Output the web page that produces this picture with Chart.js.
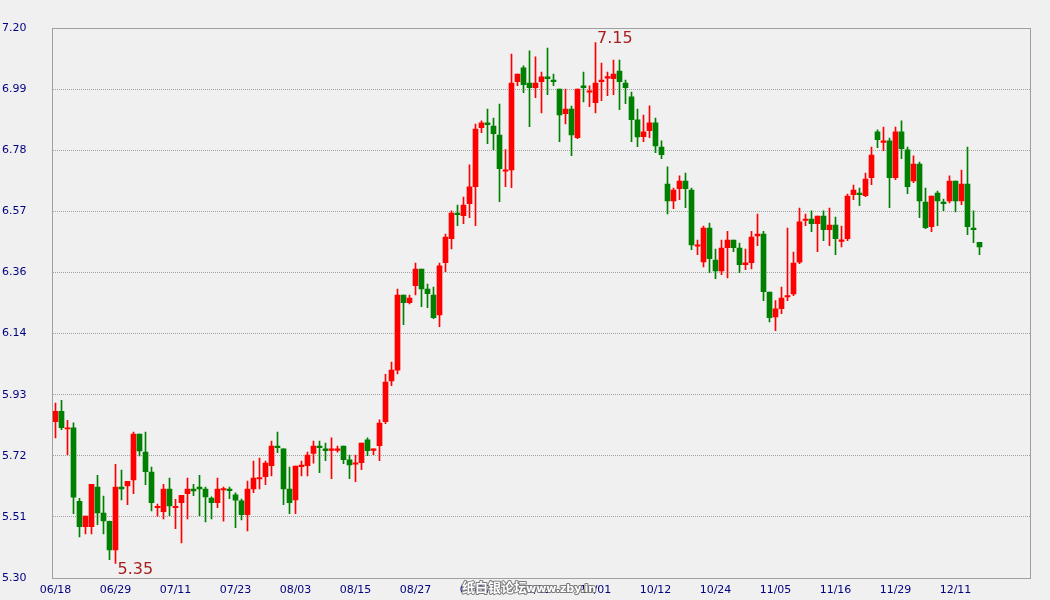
<!DOCTYPE html>
<html><head><meta charset="utf-8">
<script src="https://cdn.jsdelivr.net/npm/chart.js@4.4.0/dist/chart.umd.min.js"></script>
<style>html,body{margin:0;padding:0;background:#f0f0f0;}#wrap{width:1050px;height:600px;}canvas{display:block;}</style>
</head><body><div id="wrap"><canvas id="c" width="1050" height="600"></canvas></div>
<script>
const dates = [
'06/18','06/19','06/20','06/21','06/22','06/23','06/25','06/26','06/27','06/28',
'06/29','06/30','07/02','07/03','07/04','07/05','07/06','07/07','07/09','07/10',
'07/11','07/12','07/13','07/14','07/16','07/17','07/18','07/19','07/20','07/21',
'07/23','07/24','07/25','07/26','07/27','07/28','07/30','07/31','08/01','08/02',
'08/03','08/04','08/06','08/07','08/08','08/09','08/10','08/11','08/13','08/14',
'08/15','08/16','08/17','08/18','08/20','08/21','08/22','08/23','08/24','08/25',
'08/27','08/28','08/29','08/30','08/31','09/01','09/03','09/04','09/05','09/06',
'09/07','09/08','09/10','09/11','09/12','09/13','09/14','09/15','09/17','09/18',
'09/19','09/20','09/21','09/22','09/24','09/25','09/26','09/27','09/28','09/29',
'10/01','10/02','10/03','10/04','10/05','10/06','10/08','10/09','10/10','10/11',
'10/12','10/13','10/15','10/16','10/17','10/18','10/19','10/20','10/22','10/23',
'10/24','10/25','10/26','10/27','10/29','10/30','10/31','11/01','11/02','11/03',
'11/05','11/06','11/07','11/08','11/09','11/10','11/12','11/13','11/14','11/15',
'11/16','11/17','11/19','11/20','11/21','11/23','11/24','11/26','11/27','11/28',
'11/29','11/30','12/01','12/03','12/04','12/05','12/06','12/07','12/08','12/10',
'12/11','12/12','12/13','12/14','12/15'];

const open = [
5.840,5.876,5.815,5.819,5.565,5.477,5.477,5.614,5.524,5.496,
5.397,5.614,5.618,5.639,5.797,5.735,5.666,5.543,5.529,5.607,
5.543,5.560,5.591,5.607,5.614,5.607,5.576,5.560,5.604,5.607,
5.587,5.567,5.519,5.608,5.642,5.650,5.688,5.756,5.746,5.607,
5.570,5.685,5.688,5.730,5.756,5.746,5.741,5.741,5.756,5.708,
5.693,5.698,5.777,5.741,5.757,5.840,5.981,6.018,6.277,6.251,
6.310,6.367,6.298,6.277,6.209,6.389,6.472,6.561,6.552,6.593,
6.652,6.856,6.872,6.861,6.830,6.705,6.710,7.015,7.062,7.010,
6.994,7.015,7.031,7.020,6.989,6.904,6.920,6.821,7.000,6.978,
6.942,7.015,7.027,7.025,7.051,7.010,6.962,6.883,6.825,6.845,
6.872,6.789,6.661,6.603,6.645,6.671,6.640,6.446,6.392,6.509,
6.398,6.361,6.441,6.467,6.440,6.382,6.389,6.482,6.488,6.288,
6.202,6.230,6.271,6.281,6.391,6.535,6.540,6.524,6.550,6.503,
6.519,6.463,6.472,6.624,6.630,6.621,6.683,6.841,6.805,6.810,
6.683,6.841,6.779,6.672,6.730,6.599,6.514,6.630,6.599,6.603,
6.671,6.603,6.661,6.509,6.460];

const high = [
5.904,5.914,5.845,5.836,5.575,5.514,5.624,5.655,5.583,5.497,
5.693,5.673,5.634,5.804,5.797,5.804,5.683,5.555,5.624,5.645,
5.572,5.586,5.645,5.624,5.655,5.614,5.580,5.645,5.614,5.614,
5.594,5.573,5.635,5.704,5.714,5.704,5.773,5.804,5.746,5.683,
5.687,5.704,5.735,5.773,5.773,5.766,5.784,5.756,5.756,5.725,
5.725,5.766,5.784,5.746,5.846,6.004,6.046,6.298,6.277,6.277,
6.388,6.367,6.315,6.305,6.388,6.488,6.568,6.588,6.616,6.727,
6.868,6.879,6.920,6.889,6.937,6.780,7.110,7.041,7.069,7.121,
7.100,7.048,7.131,7.041,6.989,6.989,6.930,6.989,7.048,7.000,
7.150,7.079,7.048,7.089,7.089,7.020,6.979,6.920,6.899,6.931,
6.889,6.810,6.720,6.647,6.689,6.699,6.647,6.467,6.516,6.526,
6.436,6.467,6.498,6.467,6.457,6.436,6.498,6.557,6.498,6.288,
6.258,6.305,6.509,6.426,6.578,6.557,6.568,6.550,6.568,6.578,
6.547,6.516,6.626,6.657,6.647,6.699,6.789,6.848,6.858,6.820,
6.858,6.879,6.789,6.758,6.737,6.647,6.619,6.637,6.609,6.689,
6.671,6.709,6.789,6.568,6.460];

const low = [
5.784,5.812,5.726,5.522,5.442,5.452,5.452,5.484,5.452,5.363,
5.350,5.570,5.553,5.591,5.722,5.622,5.532,5.514,5.504,5.515,
5.470,5.421,5.504,5.584,5.515,5.494,5.504,5.543,5.496,5.574,
5.474,5.501,5.463,5.595,5.608,5.622,5.653,5.733,5.553,5.522,
5.522,5.653,5.653,5.697,5.664,5.705,5.643,5.735,5.695,5.643,
5.633,5.674,5.723,5.726,5.705,5.833,5.964,6.005,6.175,6.247,
6.278,6.237,6.234,6.196,6.168,6.358,6.437,6.517,6.524,6.545,
6.517,6.838,6.800,6.780,6.600,6.652,6.648,7.001,6.977,6.859,
6.959,6.907,6.970,7.001,6.807,6.869,6.759,6.818,6.945,6.928,
6.907,6.949,6.966,6.970,6.918,6.939,6.807,6.790,6.807,6.821,
6.769,6.749,6.558,6.576,6.607,6.579,6.434,6.417,6.375,6.355,
6.334,6.348,6.337,6.427,6.355,6.365,6.368,6.448,6.258,6.185,
6.154,6.213,6.258,6.275,6.386,6.517,6.496,6.427,6.465,6.448,
6.417,6.444,6.465,6.607,6.586,6.617,6.659,6.787,6.776,6.579,
6.676,6.749,6.628,6.666,6.545,6.507,6.496,6.517,6.569,6.596,
6.565,6.590,6.486,6.458,6.417];

const close = [
5.876,5.819,5.819,5.579,5.477,5.514,5.624,5.525,5.497,5.397,
5.614,5.608,5.634,5.797,5.739,5.667,5.560,5.548,5.607,5.549,
5.548,5.586,5.607,5.601,5.608,5.580,5.560,5.607,5.609,5.602,
5.569,5.519,5.607,5.645,5.647,5.697,5.756,5.750,5.608,5.560,
5.687,5.690,5.725,5.756,5.750,5.740,5.746,5.746,5.709,5.691,
5.698,5.766,5.740,5.746,5.835,5.977,6.018,6.277,6.251,6.267,
6.367,6.299,6.282,6.199,6.378,6.478,6.561,6.555,6.588,6.651,
6.851,6.872,6.866,6.835,6.714,6.710,7.010,7.041,7.004,6.994,
7.010,7.031,7.025,7.015,6.900,6.920,6.831,6.989,6.994,6.983,
7.010,7.020,7.032,7.041,7.015,6.994,6.883,6.824,6.841,6.872,
6.793,6.762,6.603,6.640,6.671,6.645,6.451,6.451,6.509,6.403,
6.361,6.440,6.467,6.441,6.382,6.389,6.478,6.488,6.289,6.199,
6.230,6.267,6.276,6.388,6.530,6.540,6.524,6.550,6.503,6.519,
6.472,6.468,6.619,6.640,6.624,6.678,6.761,6.814,6.810,6.683,
6.841,6.783,6.652,6.730,6.603,6.510,6.619,6.603,6.593,6.671,
6.603,6.661,6.514,6.503,6.444];

const yTicks = [5.30, 5.5111, 5.7222, 5.9333, 6.1444, 6.3556, 6.5667, 6.7778, 6.9889, 7.20];
const yTickLabels = ['5.30','5.51','5.72','5.93','6.14','6.36','6.57','6.78','6.99','7.20'];
const xLabelEvery = 10;
const emptySlots = 8;

const UP = '#ff0000', DOWN = '#008000';
const labels = dates.concat(new Array(emptySlots).fill(''));
const colors = open.map((o, i) => close[i] >= o ? UP : DOWN);
const bodies = open.map((o, i) => [Math.min(o, close[i]), Math.max(o, close[i])]);
const wicks = low.map((l, i) => [l, high[i]]);

const tickFont = {family: '"DejaVu Sans", Verdana, sans-serif', size: 11};

const framePlugin = {
  id: 'frame',
  beforeDatasetsDraw(chart) {
    const a = chart.chartArea, ctx = chart.ctx;
    ctx.save();
    ctx.strokeStyle = '#a0a0a0';
    ctx.lineWidth = 1;
    const l = Math.floor(a.left) + 0.5, r = Math.floor(a.right) + 0.5;
    const t = Math.floor(a.top) + 0.5, b = Math.floor(a.bottom) + 0.5;
    ctx.strokeRect(l, t, r - l, b - t);
    ctx.restore();
  }
};

const extremesPlugin = {
  id: 'extremes',
  afterDatasetsDraw(chart) {
    const ctx = chart.ctx, xs = chart.scales.x, ys = chart.scales.y;
    let hi = 0, lo = 0;
    high.forEach((v, i) => { if (v > high[hi]) hi = i; });
    low.forEach((v, i) => { if (v < low[lo]) lo = i; });
    ctx.save();
    ctx.fillStyle = '#a81e1e';
    ctx.font = '16px "DejaVu Sans", sans-serif';
    ctx.textAlign = 'left';
    ctx.textBaseline = 'alphabetic';
    ctx.fillText(high[hi].toFixed(2), xs.getPixelForValue(hi) + 1.5, ys.getPixelForValue(high[hi]) + 1);
    ctx.textBaseline = 'top';
    ctx.fillText(low[lo].toFixed(2), xs.getPixelForValue(lo) + 2, ys.getPixelForValue(low[lo]) - 2);
    ctx.restore();
  }
};

const watermarkPlugin = {
  id: 'watermark',
  afterDraw(chart) {
    const ctx = chart.ctx;
    ctx.save();
    ctx.textBaseline = 'alphabetic';
    ctx.textAlign = 'left';
    ctx.lineJoin = 'round';
    ctx.lineWidth = 2;
    ctx.strokeStyle = '#7a7a7a';
    ctx.fillStyle = '#ffffff';
    ctx.font = 'bold 13px "Noto Sans CJK SC", sans-serif';
    ctx.strokeText('纸白银论坛', 462, 592);
    ctx.fillText('纸白银论坛', 462, 592);
    ctx.font = 'bold 11px "DejaVu Sans", sans-serif';
    ctx.strokeText('www.zby.in', 526, 592);
    ctx.fillText('www.zby.in', 526, 592);
    ctx.restore();
  }
};

new Chart(document.getElementById('c'), {
  type: 'bar',
  data: {
    labels: labels,
    datasets: [
      {data: bodies, backgroundColor: colors, borderWidth: 0, barThickness: 5, grouped: false, order: 0},
      {data: wicks, backgroundColor: colors, borderWidth: 0, barThickness: 1, grouped: false, order: 1}
    ]
  },
  options: {
    responsive: false,
    animation: false,
    events: [],
    layout: {padding: {left: 2, right: 19.5, top: 28, bottom: 0}},
    plugins: {legend: {display: false}, tooltip: {enabled: false}},
    scales: {
      x: {
        offset: true,
        grid: {display: false, drawTicks: false},
        border: {display: false},
        ticks: {
          autoSkip: false, maxRotation: 0, minRotation: 0, padding: 6,
          color: '#000080', font: tickFont,
          callback: (v, i) => (i % xLabelEvery === 0 ? labels[i] : '')
        },
        afterFit: s => { s.height = 22; }
      },
      y: {
        min: 5.30, max: 7.20,
        grid: {color: '#a0a0a0', lineWidth: 1, drawTicks: false},
        border: {display: false, dash: [1, 1]},
        afterBuildTicks: s => { s.ticks = yTicks.map(v => ({value: v})); },
        ticks: {
          crossAlign: 'far', padding: 0, color: '#000080', font: tickFont,
          callback: (v, i) => yTickLabels[i]
        },
        afterFit: s => { s.width = 50.5; }
      }
    }
  },
  plugins: [framePlugin, extremesPlugin, watermarkPlugin]
});
</script>
</body></html>
